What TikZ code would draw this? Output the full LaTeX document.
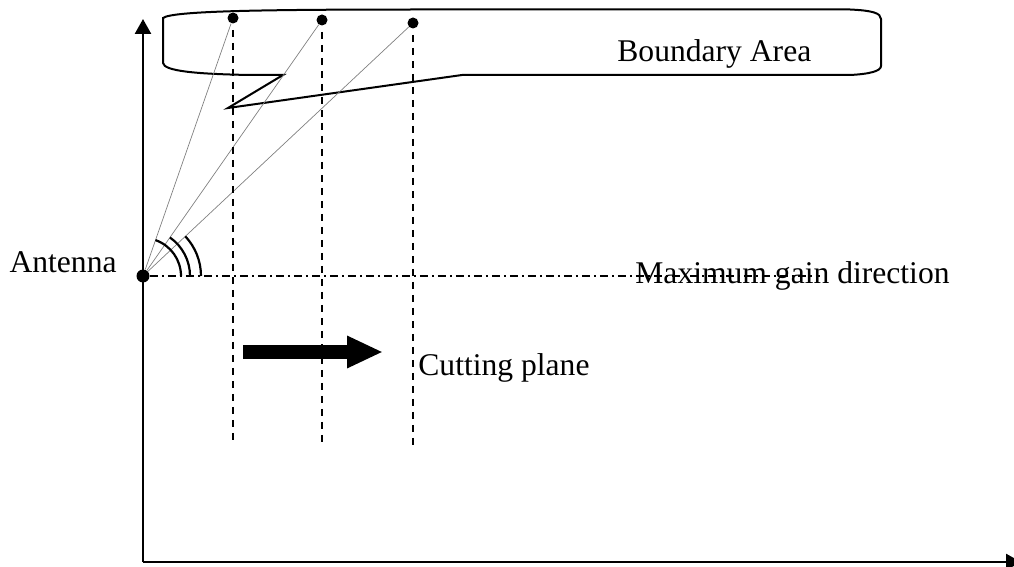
\documentclass[tikz,border=0pt]{standalone}
\usepackage{fontspec}
\setmainfont{Liberation Serif}
\usetikzlibrary{positioning,calc,arrows.meta}

\begin{document}
\begin{tikzpicture}[x=0.5pt, y=-0.5pt,
	every node/.style={inner sep=0pt, font=\fontsize{15.8pt}{19pt}\selectfont},
	dot/.style={circle, fill, minimum size=5.5pt},
	ray/.style={gray, line width=0.35pt},
	cut/.style={line width=1.2pt, dash pattern=on 3.5pt off 3pt}]
	\useasboundingbox (0,0) rectangle (1014,567);
	% axes
	\coordinate (O) at (143,562);
	\coordinate (Ytip) at (143,19);
	\coordinate (Xtip) at (1021,562);
	\draw[line width=1.3pt, -{Triangle[length=7.5pt,width=8pt]}] (O) -- (Ytip);
	\draw[line width=1.3pt, -{Triangle[length=7.5pt,width=8pt]}] (O) -- (Xtip);
	% boundary callout
	\draw[line width=1pt] (163,63) -- (163,18) .. controls (172,11) and (260,9.5) .. (420,9.5) -- (850,9.5)
		.. controls (872,10.5) and (881,13) .. (881,19) -- (881,66) .. controls (881,71) and (870,74) .. (850,75)
		-- (462,75) -- (228,108) -- (283,75) -- (250,75) .. controls (195,74) and (164,71) .. (163,63) -- cycle;
	\node[anchor=base west] (BA) at (617,62) {Boundary Area};
	% antenna and boundary points
	\node[dot, minimum size=6.5pt] (Ant) at (143,276) {};
	\node[anchor=base east] (AntL) at (117,273) {Antenna};
	\node[dot] (P1) at (233,18) {};
	\node[dot] (P2) at (322,20) {};
	\node[dot] (P3) at (413,23) {};
	\coordinate (B1) at (233,445);
	\coordinate (B2) at (322,445);
	\coordinate (B3) at (413,445);
	\draw[ray] (Ant) -- (P1);
	\draw[ray] (Ant) -- (P2);
	\draw[ray] (Ant) -- (P3);
	\draw[cut, shorten <=3pt] (P1) -- (B1);
	\draw[cut, shorten <=3pt] (P2) -- (B2);
	\draw[cut, shorten <=3pt] (P3) -- (B3);
	% angles
	\draw[line width=1.1pt] (Ant) ++(-70.8:38) arc[start angle=-70.8, end angle=0, radius=38];
	\draw[line width=1.1pt] (Ant) ++(-55:47) arc[start angle=-55, end angle=0, radius=47];
	\draw[line width=1.1pt] (Ant) ++(-43.1:58) arc[start angle=-43.1, end angle=0, radius=58];
	% maximum gain direction
	\coordinate (G) at (820,276);
	\draw[line width=0.8pt, dash pattern=on 4pt off 2pt on 1pt off 2pt] (Ant) -- (G);
	\node[anchor=base west] (MG) at (635,284) {Maximum gain direction};
	% cutting plane movement
	\coordinate (CA) at (243,352);
	\coordinate (CB) at (383,352);
	\draw[line width=7pt, -{Triangle[length=18pt,width=15pt]}] (CA) -- (CB);
	\node[anchor=base west] (CP) at (418,376) {Cutting plane};
\end{tikzpicture}
\end{document}
